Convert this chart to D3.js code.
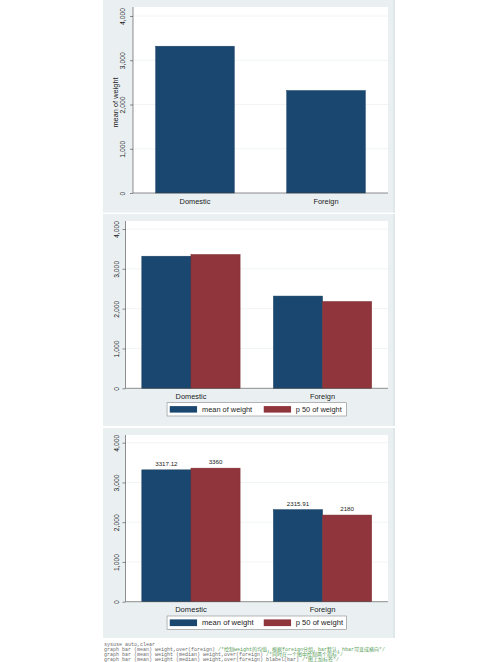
<!DOCTYPE html>
<html lang="en">
<head>
<meta charset="UTF-8">
<title>graph bar weight over foreign</title>
<style>
    body { margin: 0; background: #fff; }
    svg { display: block; font-family: "Liberation Sans", Arial, sans-serif; }
    .code { font-family: "Liberation Mono", "DejaVu Sans Mono", "Noto Sans CJK SC", monospace; font-size: 5px; fill: #6a6a6a; }
    .code .cmt { fill: #5aa05a; }
</style>
</head>
<body>
<svg id="chart"></svg>
<script src="https://cdn.jsdelivr.net/npm/d3@7"></script>
<script>
    // values
    var groups = ["Domestic", "Foreign"];
    var meanWeight = [3317.12, 2315.91];
    var medianWeight = [3360, 2180];
    var seriesNames = ["mean of weight", "p 50 of weight"];
    var seriesColors = ["#1a476f", "#90353b"];
    var yTicks = [0, 1000, 2000, 3000, 4000];
    var yTitle = "mean of weight";
    var codeLines = [
        ["sysuse auto,clear", ""],
        ["graph bar (mean) weight,over(foreign) ", "/*绘制weight的均值，根据foreign分组，bar默认，hbar可变成横向*/"],
        ["graph bar (mean) weight (median) weight,over(foreign) ", "/*同时在一个图中绘制两个指标*/"],
        ["graph bar (mean) weight (median) weight,over(foreign) blabel(bar) ", "/*图上加标签*/"]
    ];

    var W = 500, H = 662;
    var svg = d3.select("#chart").attr("width", W).attr("height", H);

    // three stata-style panels
    var panels = [
        {bg: [103, 0, 292, 212.5], x0: 133, x1: 388, top: 7, yZero: 193, yMax: 16,
         pin: 0.40, pout: 0.173, labOff: 10, catY: 201.7, series: [0],
         title: true, legend: null, blabel: false, fs: 7.4},
        {bg: [103, 214, 292, 212], x0: 125.5, x1: 388, top: 221, yZero: 388.3, yMax: 229,
         pin: 0.253, pout: 0.124, labOff: 8.5, catY: 396, series: [0, 1],
         title: false, legend: [402.7, 416], blabel: false, fs: 7.4},
        {bg: [103, 428, 292, 210], x0: 125.5, x1: 388, top: 435, yZero: 601.7, yMax: 442.7,
         pin: 0.253, pout: 0.124, labOff: 8.5, catY: 609.3, series: [0, 1],
         title: false, legend: [616, 629.5], blabel: true, fs: 7.6}
    ];

    var allSeries = [meanWeight, medianWeight];

    panels.forEach(function (p) {
        var g = svg.append("g");

        g.append("rect")
            .attr("x", p.bg[0]).attr("y", p.bg[1])
            .attr("width", p.bg[2]).attr("height", p.bg[3])
            .attr("fill", "#eaf0f2");
        g.append("rect")
            .attr("x", p.bg[0] + p.bg[2] - 2).attr("y", p.bg[1])
            .attr("width", 2).attr("height", p.bg[3])
            .attr("fill", "#dfe7ea");

        g.append("rect")
            .attr("x", p.x0).attr("y", p.top)
            .attr("width", p.x1 - p.x0).attr("height", p.yZero - p.top)
            .attr("fill", "#fff");

        var y = d3.scaleLinear().domain([0, 4000]).range([p.yZero, p.yMax]);
        var x = d3.scaleBand().domain(groups).range([p.x0, p.x1])
            .paddingInner(p.pin).paddingOuter(p.pout);
        var names = p.series.map(function (i) { return seriesNames[i]; });
        var xs = d3.scaleBand().domain(names).range([0, x.bandwidth()]).padding(0);

        // gridlines
        g.selectAll("line.grid")
            .data(yTicks.slice(1))
            .enter().append("line")
            .attr("class", "grid")
            .attr("x1", p.x0).attr("x2", p.x1)
            .attr("y1", function (d) { return y(d); })
            .attr("y2", function (d) { return y(d); })
            .attr("stroke", "#edf2f4").attr("stroke-width", 0.8);

        // bars
        p.series.forEach(function (si) {
            var vals = allSeries[si];
            g.selectAll("rect.s" + si)
                .data(groups)
                .enter().append("rect")
                .attr("class", "s" + si)
                .attr("x", function (d) { return x(d) + xs(seriesNames[si]); })
                .attr("y", function (d, i) { return y(vals[i]); })
                .attr("width", xs.bandwidth())
                .attr("height", function (d, i) { return p.yZero - y(vals[i]); })
                .attr("fill", seriesColors[si])
                .attr("stroke", d3.color(seriesColors[si]).darker(0.4))
                .attr("stroke-width", 0.5);

            if (p.blabel) {
                g.selectAll("text.v" + si)
                    .data(groups)
                    .enter().append("text")
                    .attr("class", "v" + si)
                    .attr("x", function (d) { return x(d) + xs(seriesNames[si]) + xs.bandwidth() / 2; })
                    .attr("y", function (d, i) { return y(vals[i]) - 3.8; })
                    .attr("text-anchor", "middle")
                    .attr("font-size", 6.2)
                    .attr("fill", "#222")
                    .text(function (d, i) { return String(vals[i]); });
            }
        });

        // y axis
        var ax = g.append("g")
            .attr("transform", "translate(" + p.x0 + ",0)")
            .call(d3.axisLeft(y).tickValues(yTicks).tickFormat(d3.format(","))
                .tickSize(3).tickSizeOuter(0));
        ax.select(".domain").remove();
        ax.selectAll(".tick line").attr("stroke", "#444").attr("stroke-width", 0.6);
        ax.selectAll(".tick text")
            .attr("x", null).attr("dy", "0.35em")
            .attr("transform", "translate(" + (-p.labOff) + ",0) rotate(-90)")
            .attr("text-anchor", "middle")
            .attr("font-size", 6.8)
            .attr("font-family", "Liberation Sans, Arial, sans-serif")
            .attr("fill", "#222");

        g.append("line")
            .attr("x1", p.x0).attr("x2", p.x0)
            .attr("y1", p.top).attr("y2", p.yZero)
            .attr("stroke", "#444").attr("stroke-width", 0.6);
        g.append("line")
            .attr("x1", p.x0).attr("x2", p.x1)
            .attr("y1", p.yZero).attr("y2", p.yZero)
            .attr("stroke", "#444").attr("stroke-width", 0.6);

        if (p.title) {
            g.append("text")
                .attr("transform", "translate(" + (p.x0 - 17.5) + "," + ((p.yZero + p.yMax) / 2 - 2) + ") rotate(-90)")
                .attr("dy", "0.35em")
                .attr("text-anchor", "middle")
                .attr("font-size", 7.4)
                .attr("fill", "#222")
                .text(yTitle);
        }

        // category labels
        g.selectAll("text.cat")
            .data(groups)
            .enter().append("text")
            .attr("class", "cat")
            .attr("x", function (d) { return x(d) + x.bandwidth() / 2; })
            .attr("y", p.catY)
            .attr("dy", "0.35em")
            .attr("text-anchor", "middle")
            .attr("font-size", p.fs)
            .attr("fill", "#222")
            .text(function (d) { return d; });

        // legend
        if (p.legend) {
            var cx = (p.x0 + p.x1) / 2;
            var bw = 179.4, lx = cx - bw / 2;
            var ly0 = p.legend[0], ly1 = p.legend[1];
            var lg = g.append("g");
            lg.append("rect")
                .attr("x", lx).attr("y", ly0)
                .attr("width", bw).attr("height", ly1 - ly0)
                .attr("fill", "#fff").attr("stroke", "#888").attr("stroke-width", 0.6);
            var offs = [[2.7, 35], [96.7, 128.7]];
            seriesNames.forEach(function (name, i) {
                lg.append("rect")
                    .attr("x", lx + offs[i][0]).attr("y", ly0 + 3.4)
                    .attr("width", 27.3).attr("height", ly1 - ly0 - 6.8)
                    .attr("fill", seriesColors[i]);
                lg.append("text")
                    .attr("x", lx + offs[i][1]).attr("y", (ly0 + ly1) / 2)
                    .attr("dy", "0.35em")
                    .attr("font-size", p.fs)
                    .attr("fill", "#222")
                    .text(name);
            });
        }
    });

    // stata do-file lines under the charts
    var code = svg.append("g").attr("class", "code");
    codeLines.forEach(function (ln, i) {
        var t = code.append("text").attr("x", 104).attr("y", 645.8 + i * 5.1);
        t.append("tspan").text(ln[0]);
        if (ln[1]) t.append("tspan").attr("class", "cmt").text(ln[1]);
    });
</script>
</body>
</html>
